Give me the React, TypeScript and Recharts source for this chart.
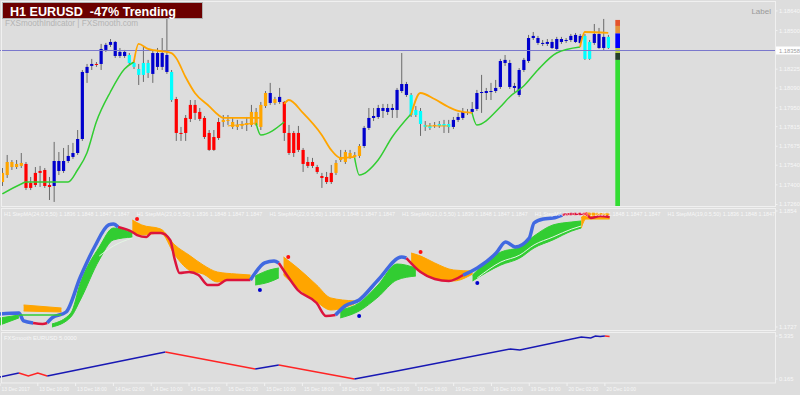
import React from "react";
import { ComposedChart, Bar, Line, Area, XAxis, YAxis, ReferenceLine, ReferenceArea } from "recharts";

// one slot per H1 bar across the plot; candles fill the first 130
const SLOTS = 165;
const FONT = "'Liberation Sans', Arial, sans-serif";
const AXIS_TEXT = "#f7f7f7";

const timeLabels = [
  "13 Dec 2017", "13 Dec 10:00", "13 Dec 18:00", "14 Dec 02:00", "14 Dec 10:00", "14 Dec 18:00",
  "15 Dec 02:00", "15 Dec 10:00", "15 Dec 18:00", "18 Dec 02:00", "18 Dec 10:00", "18 Dec 18:00",
  "19 Dec 02:00", "19 Dec 10:00", "19 Dec 18:00", "20 Dec 02:00", "20 Dec 10:00",
];
const timeTickIdx = timeLabels.map((_, k) => k * 8);

const priceTicks = [1.1864, 1.185, 1.18358, 1.18225, 1.1809, 1.1795, 1.17815, 1.17675, 1.1754, 1.174, 1.1726];
const CURRENT_PRICE = 1.18358;
const stepTicks = [1.1854, 1.1727];
const smoothTicks = [5.335, 0.165];

// candle colour state: B blue, C cyan, R red, O orange
const candleState = "OOOOORRRRRRBBBBBBBBBRBBBBBBCCCCCBBBBCRRRRRRRRRROOOOOOOOOOBOBRRRRRRRRRRROOOOOOBBBBBBBBBBCCCCCOCCCBBBOBBBBBBBBBBBBBBBBBBBBBBBBCCBBBC".split("");

const bodyHigh = [
  1.17485, 1.17563, 1.17563, 1.17549, 1.17556, 1.17549, 1.17413, 1.17485, 1.17499, 1.17506,
  1.17399, 1.1757, 1.1757, 1.1757, 1.17606, 1.17627, 1.17727, 1.18205, 1.18241, 1.18262,
  1.18262, 1.18369, 1.18398, 1.18419, 1.18419, 1.18348, 1.18348, 1.18326, 1.18269, 1.18226,
  1.18269, 1.18269, 1.1834, 1.1834, 1.1834, 1.18326, 1.18205, 1.18012, 1.1777, 1.17877,
  1.1797, 1.1797, 1.1792, 1.17877, 1.1777, 1.17741, 1.17848, 1.17863, 1.17863, 1.17848,
  1.17827, 1.17834, 1.17841, 1.1792, 1.1792, 1.1797, 1.18055, 1.18055, 1.18012, 1.18027,
  1.17991, 1.1777, 1.1777, 1.1777, 1.17649, 1.17563, 1.17563, 1.17527, 1.17463, 1.17456,
  1.17485, 1.17556, 1.17599, 1.17634, 1.17627, 1.17613, 1.17677, 1.17806, 1.17877, 1.17891,
  1.17948, 1.17948, 1.17948, 1.17948, 1.18077, 1.18119, 1.18119, 1.18041, 1.17934, 1.17927,
  1.17827, 1.1782, 1.17827, 1.17834, 1.17834, 1.17834, 1.17863, 1.17884, 1.1792, 1.1792,
  1.17941, 1.18055, 1.18062, 1.18069, 1.18069, 1.18091, 1.18283, 1.18291, 1.18269, 1.18105,
  1.18219, 1.18291, 1.18447, 1.18462, 1.18447, 1.18412, 1.18419, 1.18419, 1.1844, 1.1844,
  1.18433, 1.18462, 1.18469, 1.18462, 1.18462, 1.18419, 1.18476, 1.18476, 1.18455, 1.18455,
];
const bodyLow = [
  1.1742, 1.1747, 1.17527, 1.17527, 1.17535, 1.17378, 1.17378, 1.17399, 1.17485, 1.17392,
  1.17385, 1.17392, 1.17499, 1.17499, 1.1757, 1.17599, 1.17627, 1.17727, 1.18198, 1.18248,
  1.18255, 1.18262, 1.18362, 1.18398, 1.18319, 1.18319, 1.18319, 1.18269, 1.18241, 1.18184,
  1.18184, 1.18198, 1.18191, 1.18241, 1.18241, 1.18205, 1.18005, 1.1777, 1.17763, 1.1777,
  1.1787, 1.17913, 1.1787, 1.17741, 1.17649, 1.17649, 1.17734, 1.17848, 1.17855, 1.17813,
  1.17813, 1.1782, 1.17827, 1.17827, 1.17827, 1.17813, 1.17962, 1.17984, 1.17984, 1.17991,
  1.1777, 1.17627, 1.17627, 1.17649, 1.17549, 1.17535, 1.17535, 1.17492, 1.17449, 1.1742,
  1.1742, 1.17485, 1.17577, 1.17563, 1.17599, 1.17599, 1.17606, 1.17677, 1.17806, 1.17877,
  1.17884, 1.17927, 1.1792, 1.17934, 1.17934, 1.18069, 1.18041, 1.17898, 1.17898, 1.17834,
  1.17813, 1.17806, 1.1782, 1.1782, 1.1782, 1.17813, 1.17813, 1.17863, 1.17877, 1.17913,
  1.1792, 1.17941, 1.18055, 1.18055, 1.18062, 1.18069, 1.18098, 1.18269, 1.18098, 1.18091,
  1.18041, 1.18219, 1.18283, 1.18447, 1.18412, 1.18405, 1.18405, 1.18376, 1.18369, 1.18419,
  1.18426, 1.18433, 1.18419, 1.18412, 1.18298, 1.18298, 1.18412, 1.18376, 1.18376, 1.18376,
];
const highs = [
  1.1752, 1.17613, 1.17577, 1.17577, 1.17627, 1.17563, 1.17456, 1.17527, 1.17535, 1.1752,
  1.17456, 1.17706, 1.17634, 1.17663, 1.17684, 1.17699, 1.17791, 1.18219, 1.18262, 1.18298,
  1.18276, 1.18405, 1.18412, 1.1844, 1.18426, 1.18376, 1.18362, 1.1834, 1.18291, 1.18262,
  1.18383, 1.18291, 1.18362, 1.18376, 1.18447, 1.18597, 1.18219, 1.18027, 1.17813, 1.17898,
  1.18005, 1.18005, 1.17948, 1.17891, 1.17791, 1.17791, 1.17877, 1.17898, 1.17898, 1.17877,
  1.17863, 1.17855, 1.17884, 1.1797, 1.17948, 1.17991, 1.18069, 1.18127, 1.18027, 1.18091,
  1.17998, 1.17827, 1.17784, 1.1782, 1.17663, 1.17599, 1.17592, 1.17542, 1.17485, 1.17492,
  1.17542, 1.17577, 1.17649, 1.17649, 1.17649, 1.17634, 1.17691, 1.1782, 1.17948, 1.17948,
  1.1797, 1.17977, 1.17977, 1.17977, 1.18091, 1.1834, 1.18134, 1.18055, 1.17962, 1.17948,
  1.17855, 1.17841, 1.17848, 1.17855, 1.17863, 1.17863, 1.17884, 1.17913, 1.17948, 1.17941,
  1.17991, 1.18077, 1.18184, 1.18091, 1.18127, 1.18148, 1.18298, 1.18326, 1.18291, 1.18127,
  1.18233, 1.18305, 1.18469, 1.1849, 1.18462, 1.18433, 1.1844, 1.1844, 1.18455, 1.18455,
  1.18447, 1.18476, 1.18483, 1.18476, 1.18476, 1.18433, 1.18547, 1.18519, 1.18583, 1.18469,
];
const lows = [
  1.17392, 1.17449, 1.17506, 1.17513, 1.1752, 1.17363, 1.17363, 1.17385, 1.17385, 1.17378,
  1.17292, 1.17278, 1.1747, 1.17485, 1.17556, 1.17585, 1.17613, 1.17713, 1.18127, 1.18219,
  1.18241, 1.18219, 1.18348, 1.18383, 1.18305, 1.18305, 1.18305, 1.18255, 1.18226, 1.18112,
  1.18134, 1.18162, 1.18127, 1.18219, 1.18219, 1.18191, 1.17991, 1.17713, 1.17713, 1.17713,
  1.17848, 1.17863, 1.17855, 1.17727, 1.17642, 1.17642, 1.1772, 1.17813, 1.17827, 1.17798,
  1.17791, 1.17798, 1.17784, 1.17813, 1.1782, 1.17791, 1.17948, 1.1797, 1.1797, 1.17977,
  1.17713, 1.17613, 1.17599, 1.17634, 1.17492, 1.1752, 1.1752, 1.17478, 1.17378, 1.17406,
  1.17406, 1.1747, 1.17563, 1.17549, 1.17585, 1.17592, 1.17592, 1.17663, 1.17791, 1.17855,
  1.1787, 1.17877, 1.17898, 1.17877, 1.17877, 1.18055, 1.18027, 1.17884, 1.17884, 1.17749,
  1.17784, 1.17791, 1.17806, 1.17806, 1.1777, 1.1777, 1.17798, 1.17848, 1.17863, 1.17898,
  1.17905, 1.17927, 1.17913, 1.18005, 1.18005, 1.18055, 1.18084, 1.18248, 1.18084, 1.18062,
  1.18027, 1.18205, 1.18269, 1.18433, 1.18398, 1.1839, 1.1839, 1.18369, 1.18362, 1.18405,
  1.18412, 1.18419, 1.18412, 1.18405, 1.18291, 1.18291, 1.18398, 1.18369, 1.18362, 1.18369,
];

// upper / lower trend lines on the price panel: [bar, price]
const greenLine1 = [[0, 1.17335], [4, 1.17406], [5, 1.1742], [14, 1.1742], [16, 1.17506], [18, 1.17627], [20, 1.17848], [23, 1.18062], [26, 1.18226], [28, 1.18276]];
const greenLine2 = [[54, 1.17841], [55, 1.17756], [60, 1.17848]];
const greenLine3 = [[75, 1.17592], [76, 1.1747], [80, 1.17577], [83, 1.17741], [87, 1.17905]];
const greenLine4 = [[100, 1.17913], [101, 1.17827], [106, 1.17955], [108, 1.18027], [111, 1.18105], [114, 1.18219], [118, 1.1834], [123, 1.18383]];
const orangeLine1 = [[28, 1.18276], [29, 1.18405], [31, 1.18369], [36, 1.1834], [37, 1.18305], [39, 1.18169], [41, 1.18055], [44, 1.17962], [46, 1.17898], [47, 1.17877], [55, 1.17877]];
const orangeLine2 = [[60, 1.17977], [61, 1.18005], [64, 1.17913], [68, 1.17756], [70, 1.17649], [72, 1.17592], [75, 1.17599]];
const orangeLine3 = [[87, 1.17898], [89, 1.18055], [92, 1.18012], [95, 1.17955], [97, 1.17927], [100, 1.17913]];
const orangeLine4 = [[123, 1.18383], [124, 1.1849], [129, 1.18483]];
const orangeFlat1 = [[48, 1.1782], [54, 1.17841]];
const orangeFlat2 = [[90, 1.1782], [95, 1.1782]];

// strength column right of the last bar, boundaries top to bottom
const strengthStops = [1.18576, 1.18533, 1.1848, 1.18376, 1.1834, 1.18291, 1.17249];
const strengthColors = ["#e4532c", "#e4923a", "#0000ff", "#b8cf48", "#24402a", "#33dd33"];

// StepMA ribbons: [bar, upper, lower]
const greenBand0 = [[0, 1.17369, 1.17292], [4, 1.17401, 1.17369]];
const orangeBand1 = [[5, 1.17511, 1.17445], [13, 1.17478, 1.17434]];
const greenBand1 = [[11, 1.17303, 1.1727], [15, 1.17423, 1.1738], [17, 1.17752, 1.17566], [21, 1.18146, 1.18004], [24, 1.18354, 1.18223], [28, 1.18299, 1.18255]];
const orangeBand2 = [[28, 1.18441, 1.18299], [30, 1.18387, 1.18277], [34, 1.18343, 1.18299], [37, 1.18168, 1.18058], [40, 1.18058, 1.17894], [43, 1.17949, 1.1785], [46, 1.17872, 1.17763], [50, 1.1785, 1.17796], [53, 1.17839, 1.17796]];
const greenBand2 = [[54, 1.17828, 1.1773], [57, 1.17894, 1.17763], [59, 1.17916, 1.17807]];
const orangeBand3 = [[60, 1.18036, 1.17839], [63, 1.17916, 1.17697], [67, 1.1773, 1.17544], [70, 1.17588, 1.17456], [75, 1.17555, 1.17522]];
const greenBand3 = [[72, 1.17456, 1.17369], [76, 1.17533, 1.17445], [80, 1.1773, 1.17598], [84, 1.1796, 1.17785], [88, 1.17916, 1.17828]];
const orangeBand4 = [[87, 1.1808, 1.17982], [89, 1.18047, 1.17872], [92, 1.17971, 1.17796], [96, 1.17894, 1.17774], [100, 1.17883, 1.1785]];
const greenBand4 = [[100, 1.17839, 1.17774], [106, 1.18091, 1.17949], [110, 1.18146, 1.18025], [113, 1.18266, 1.18135], [117, 1.18387, 1.18223], [121, 1.1842, 1.18321], [123, 1.18431, 1.18354]];
const orangeBand5 = [[123, 1.18463, 1.18354], [124, 1.18518, 1.18452], [129, 1.18507, 1.18452]];
const greenFlat0 = [[4, 1.17401], [13, 1.17401]];
// pale slow lines running inside the wide green ribbons
const paleLine1 = [[21, 1.18047], [24, 1.18157], [28, 1.18244]];
const paleLine4 = [[101, 1.17807], [106, 1.17982], [110, 1.18058], [113, 1.18168], [117, 1.18255], [121, 1.18343], [123, 1.18376]];

// fastest StepMA, blue while rising, red while falling
const fastBlue1 = [[0, 1.17412], [4, 1.17423], [5, 1.17336], [7, 1.17314]];
const fastRed1 = [[7, 1.17314], [9, 1.17303], [10, 1.17314]];
const fastBlue2 = [[10, 1.17314], [11, 1.17369], [14, 1.17434], [17, 1.17817], [20, 1.18146], [23, 1.18387], [24, 1.18398], [25, 1.18365]];
const fastRed2 = [[25, 1.18365], [28, 1.1831], [29, 1.18277], [31, 1.18255], [32, 1.18299], [34, 1.18299], [36, 1.18223], [37, 1.18004], [38, 1.17861], [40, 1.17872], [42, 1.17839], [44, 1.1773], [46, 1.1773], [48, 1.17785], [53, 1.17785]];
const fastBlue3 = [[53, 1.17785], [54, 1.17861], [56, 1.17971], [58, 1.17993], [59, 1.17971]];
const fastRed3 = [[59, 1.17971], [61, 1.17817], [63, 1.17675], [67, 1.17533], [69, 1.1739], [71, 1.17401]];
const fastBlue4 = [[71, 1.17401], [73, 1.175], [76, 1.17566], [80, 1.17785], [85, 1.18036], [86, 1.18025]];
const fastRed4 = [[86, 1.18025], [89, 1.17872], [92, 1.17796], [95, 1.17774], [98, 1.17839]];
const fastBlue5 = [[98, 1.17839], [101, 1.17916], [105, 1.1808], [107, 1.18201], [109, 1.18146], [112, 1.18244], [113, 1.18409], [115, 1.18452], [117, 1.18463], [119, 1.18496]];
const fastRed5 = [[119, 1.18496], [121, 1.18507], [124, 1.18507], [125, 1.18463], [127, 1.18485], [129, 1.18474]];

const redDots = [[29, 1.18452], [61, 1.18036], [89, 1.18091], [124, 1.18507]];
const blueDots = [[55, 1.17675], [76, 1.1739], [101, 1.17752]];

// FXSmooth oscillator
const smoothBlue1 = [[0, 0.41], [4, 0.89]];
const smoothRed1 = [[4, 0.89], [6, 0.53], [8, 0.89], [10, 0.53]];
const smoothBlue2 = [[10, 0.53], [35, 3.41]];
const smoothRed2 = [[35, 3.41], [54, 1.37]];
const smoothBlue3 = [[54, 1.37], [59, 1.85]];
const smoothRed3 = [[59, 1.85], [75, 0.165]];
const smoothBlue4 = [[75, 0.165], [84, 1.13], [108, 3.77], [110, 3.65], [123, 5.215], [125, 5.095], [126, 5.335], [127, 5.28], [128, 5.335]];
const smoothRed4 = [[128, 5.335], [129, 5.28]];

const stepMaLabels = [
  "H1 StepMA(24,0.5,50) 1.1836 1.1848 1.1847 1.1847",
  "H1 StepMA(23,0.5,50) 1.1836 1.1848 1.1847 1.1847",
  "H1 StepMA(22,0.5,50) 1.1836 1.1848 1.1847 1.1847",
  "H1 StepMA(21,0.5,50) 1.1836 1.1848 1.1847 1.1847",
  "H1 StepMA(20,0.5,50) 1.1836 1.1848 1.1847 1.1847",
  "H1 StepMA(19,0.5,50) 1.1836 1.1848 1.1847",
];

const GREEN = "#32cd32";
const ORANGE = "#ffa500";
const stateColor: Record<string, string> = { B: "#0000cd", C: "#00ffff", R: "#ff0000", O: "#ffa500" };

const rows: Record<string, any>[] = Array.from({ length: SLOTS }, (_, i) => ({
  i,
  high: highs[i],
  low: lows[i],
  bodyHi: bodyHigh[i],
  bodyLo: bodyLow[i],
  state: candleState[i],
}));
const put = (key: string, pts: number[][]) => pts.forEach(([idx, v]) => { rows[idx][key] = v; });
const putBand = (key: string, pts: number[][]) => pts.forEach(([idx, hi, lo]) => { rows[idx][key] = [lo, hi]; });

const topLines = [
  { key: "gl1", pts: greenLine1, color: GREEN, width: 1.5 },
  { key: "gl2", pts: greenLine2, color: GREEN, width: 1.5 },
  { key: "gl3", pts: greenLine3, color: GREEN, width: 1.5 },
  { key: "gl4", pts: greenLine4, color: GREEN, width: 1.5 },
  { key: "ol1", pts: orangeLine1, color: ORANGE, width: 1.8 },
  { key: "ol2", pts: orangeLine2, color: ORANGE, width: 1.8 },
  { key: "ol3", pts: orangeLine3, color: ORANGE, width: 1.8 },
  { key: "ol4", pts: orangeLine4, color: ORANGE, width: 1.8 },
  { key: "of1", pts: orangeFlat1, color: ORANGE, width: 1 },
  { key: "of2", pts: orangeFlat2, color: ORANGE, width: 1 },
];
const bands = [
  { key: "gb0", pts: greenBand0, color: GREEN },
  { key: "ob1", pts: orangeBand1, color: ORANGE },
  { key: "gb1", pts: greenBand1, color: GREEN },
  { key: "ob2", pts: orangeBand2, color: ORANGE },
  { key: "gb2", pts: greenBand2, color: GREEN },
  { key: "ob3", pts: orangeBand3, color: ORANGE },
  { key: "gb3", pts: greenBand3, color: GREEN },
  { key: "ob4", pts: orangeBand4, color: ORANGE },
  { key: "gb4", pts: greenBand4, color: GREEN },
  { key: "ob5", pts: orangeBand5, color: ORANGE },
];
const fastLines = [
  { key: "pl1", pts: paleLine1, color: "#e4f6e4", width: 1 },
  { key: "pl4", pts: paleLine4, color: "#e4f6e4", width: 1 },
  { key: "fb1", pts: fastBlue1, color: "#4169e1", width: 3.5 },
  { key: "fr1", pts: fastRed1, color: "#dc143c", width: 2.5 },
  { key: "fb2", pts: fastBlue2, color: "#4169e1", width: 3.5 },
  { key: "fr2", pts: fastRed2, color: "#dc143c", width: 2.5 },
  { key: "fb3", pts: fastBlue3, color: "#4169e1", width: 3.5 },
  { key: "fr3", pts: fastRed3, color: "#dc143c", width: 2.5 },
  { key: "fb4", pts: fastBlue4, color: "#4169e1", width: 3.5 },
  { key: "fr4", pts: fastRed4, color: "#dc143c", width: 2.5 },
  { key: "fb5", pts: fastBlue5, color: "#4169e1", width: 3.5 },
  { key: "fr5", pts: fastRed5, color: "#dc143c", width: 2.5 },
  { key: "gf0", pts: greenFlat0, color: GREEN, width: 1.5 },
];
const smoothLines = [
  { key: "sb1", pts: smoothBlue1, color: "#1818b4" },
  { key: "sr1", pts: smoothRed1, color: "#ff2424" },
  { key: "sb2", pts: smoothBlue2, color: "#1818b4" },
  { key: "sr2", pts: smoothRed2, color: "#ff2424" },
  { key: "sb3", pts: smoothBlue3, color: "#1818b4" },
  { key: "sr3", pts: smoothRed3, color: "#ff2424" },
  { key: "sb4", pts: smoothBlue4, color: "#1818b4" },
  { key: "sr4", pts: smoothRed4, color: "#ff2424" },
];
topLines.forEach((s) => put(s.key, s.pts));
bands.forEach((s) => putBand(s.key, s.pts));
fastLines.forEach((s) => put(s.key, s.pts));
smoothLines.forEach((s) => put(s.key, s.pts));
put("redDot", redDots);
put("blueDot", blueDots);

function Candle(props: any) {
  const { x, y, width, height, payload } = props;
  if (!payload || payload.high == null) return null;
  const top = Math.min(y, y + height);
  const span = Math.abs(height);
  const range = payload.high - payload.low || 1e-9;
  const at = (v: number) => top + ((payload.high - v) / range) * span;
  const cx = x + width / 2;
  const b1 = at(payload.bodyHi);
  const b2 = at(payload.bodyLo);
  return (
    <g>
      <line x1={cx} x2={cx} y1={top} y2={top + span} stroke="#6a6a6a" strokeWidth={1} />
      <rect x={cx - 1.6} y={b1} width={3.2} height={Math.max(1, b2 - b1)} fill={stateColor[payload.state]} />
    </g>
  );
}

const rightTick = (digits: number) => (props: any) => {
  const { x, y, payload } = props;
  const cur = payload.value === CURRENT_PRICE;
  return (
    <g>
      <line x1={x} x2={x + 2.5} y1={y} y2={y} stroke="#f2f2f2" />
      {cur && <rect x={x + 1} y={y - 4} width={25} height={8} fill="#ffffff" />}
      <text x={x + 4} y={y + 2} fontSize={5.8} fontFamily={FONT} fill={cur ? "#a0a0a0" : AXIS_TEXT}>
        {payload.value.toFixed(digits)}
      </text>
    </g>
  );
};

const timeTick = (props: any) => {
  const { x, y, payload } = props;
  return (
    <g>
      <line x1={x} x2={x} y1={y} y2={y + 3} stroke="#f2f2f2" />
      <text x={x + 1.5} y={y + 7.5} fontSize={5} fontFamily={FONT} fill={AXIS_TEXT}>
        {timeLabels[timeTickIdx.indexOf(payload.value)]}
      </text>
    </g>
  );
};

export default function App() {
  return (
    <div style={{ position: "absolute", left: 0, top: 0, width: 800, height: 395, background: "#dddddd", overflow: "hidden" }}>
      <div style={{ position: "absolute", left: 0, top: 0 }}>
        <ComposedChart width={800} height={208} data={rows} margin={{ top: 1, right: 0, bottom: 1, left: 0 }}>
          <XAxis dataKey="i" type="category" hide />
          <YAxis orientation="right" width={25} type="number" domain={[1.17242, 1.18711]} ticks={priceTicks} interval={0}
            tick={rightTick(5)} tickLine={false} axisLine={false} tickSize={0} tickMargin={0} allowDataOverflow />
          <ReferenceLine y={CURRENT_PRICE} stroke="#7a78cc" strokeWidth={1} />
          {strengthColors.map((c, k) => (
            <ReferenceArea key={c} x1={131} x2={131} y1={strengthStops[k + 1]} y2={strengthStops[k]} fill={c} fillOpacity={1} stroke="none" ifOverflow="visible" />
          ))}
          <Bar dataKey={(r: any) => (r.high == null ? null : [r.low, r.high])} barSize={3} shape={(p: any) => <Candle {...p} />} isAnimationActive={false} />
          {topLines.map((s) => (
            <Line key={s.key} dataKey={s.key} type="monotone" stroke={s.color} strokeWidth={s.width} dot={false} connectNulls isAnimationActive={false} />
          ))}
        </ComposedChart>
      </div>
      <div style={{ position: "absolute", left: 0, top: 208 }}>
        <ComposedChart width={800} height={123} data={rows} margin={{ top: 1, right: 0, bottom: 1, left: 0 }}>
          <XAxis dataKey="i" type="category" hide />
          <YAxis orientation="right" width={25} type="number" domain={[1.17237, 1.18562]} ticks={stepTicks} interval={0}
            tick={rightTick(4)} tickLine={false} axisLine={false} tickSize={0} tickMargin={0} allowDataOverflow />
          {bands.map((s) => (
            <Area key={s.key} dataKey={s.key} type="monotone" stroke={s.color} strokeWidth={1} fill={s.color} fillOpacity={1} connectNulls dot={false} activeDot={false} isAnimationActive={false} />
          ))}
          {fastLines.map((s) => (
            <Line key={s.key} dataKey={s.key} type="monotone" stroke={s.color} strokeWidth={s.width} dot={false} connectNulls isAnimationActive={false} />
          ))}
          <Line dataKey="redDot" stroke="none" dot={{ r: 2, fill: "#ff1010", stroke: "none" }} isAnimationActive={false} />
          <Line dataKey="blueDot" stroke="none" dot={{ r: 2, fill: "#0000cc", stroke: "none" }} isAnimationActive={false} />
        </ComposedChart>
      </div>
      <div style={{ position: "absolute", left: 0, top: 331 }}>
        <ComposedChart width={800} height={64} data={rows} margin={{ top: 1, right: 0, bottom: 0, left: 0 }}>
          <XAxis dataKey="i" type="category" ticks={timeTickIdx} interval={0} height={12} tick={timeTick}
            tickLine={false} axisLine={false} tickSize={0} tickMargin={0} />
          <YAxis orientation="right" width={25} type="number" domain={[-0.316, 5.816]} ticks={smoothTicks} interval={0}
            tick={rightTick(3)} tickLine={false} axisLine={false} tickSize={0} tickMargin={0} allowDataOverflow />
          {smoothLines.map((s) => (
            <Line key={s.key} dataKey={s.key} type="linear" stroke={s.color} strokeWidth={1.5} dot={false} connectNulls isAnimationActive={false} />
          ))}
        </ComposedChart>
      </div>
      <svg width={800} height={395} style={{ position: "absolute", left: 0, top: 0, pointerEvents: "none" }}>
        <rect x={1.5} y={1.5} width={774} height={205} fill="none" stroke="#f0f0f0" />
        <rect x={1.5} y={208.5} width={774} height={122} fill="none" stroke="#f0f0f0" />
        <rect x={1.5} y={332.5} width={774} height={50.5} fill="none" stroke="#f0f0f0" />
        <text x={5} y={26} fontSize={8.2} fontFamily={FONT} fill="#b4b4b4">FXSmoothIndicator | FXSmooth.com</text>
        <rect x={2.5} y={2.5} width={200} height={16} fill="#6c0000" stroke="#b0b0b0" />
        <text x={10} y={15.5} fontSize={12.6} fontWeight="bold" fontFamily={FONT} fill="#ffffff" style={{ whiteSpace: "pre" }}>
          {"H1 EURUSD  -47% Trending"}
        </text>
        <text x={771} y={14} fontSize={8} fontFamily={FONT} fill="#9a9a9a" textAnchor="end">Label</text>
        {stepMaLabels.map((t, k) => (
          <text key={t + k} x={4 + k * 132.7} y={216} fontSize={5.4} fontFamily={FONT} fill={AXIS_TEXT}>{t}</text>
        ))}
        <text x={4} y={340} fontSize={5.8} fontFamily={FONT} fill={AXIS_TEXT}>FXSmooth EURUSD 5.0000</text>
      </svg>
    </div>
  );
}
